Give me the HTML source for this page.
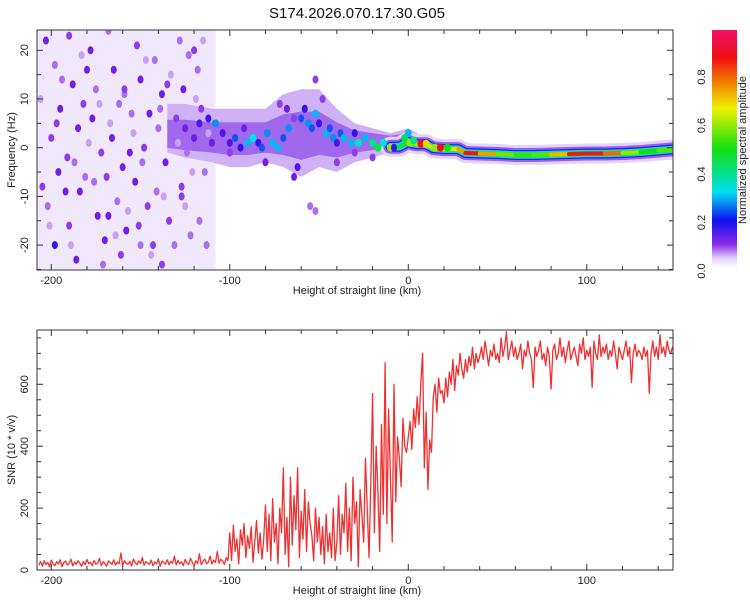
<!DOCTYPE html>
<html><head><meta charset="utf-8">
<style>
html,body{margin:0;padding:0;background:#fff;}
svg{display:block;font-family:"Liberation Sans",sans-serif;}
</style></head>
<body>
<svg id="chart" width="750" height="600" viewBox="0 0 750 600" xmlns="http://www.w3.org/2000/svg">
<defs>
<linearGradient id="cmap" x1="0" y1="1" x2="0" y2="0">
<stop offset="0" stop-color="#ffffff"/>
<stop offset="0.04" stop-color="#e2d2f8"/>
<stop offset="0.1" stop-color="#8a2be8"/>
<stop offset="0.2" stop-color="#1010f0"/>
<stop offset="0.32" stop-color="#00e0f0"/>
<stop offset="0.5" stop-color="#10e010"/>
<stop offset="0.67" stop-color="#f0f000"/>
<stop offset="0.78" stop-color="#f08000"/>
<stop offset="0.88" stop-color="#f01010"/>
<stop offset="1" stop-color="#f0106a"/>
</linearGradient>
<clipPath id="clipTop"><rect x="37" y="30" width="636" height="240"/></clipPath>
<clipPath id="clipBot"><rect x="37" y="330" width="636" height="240"/></clipPath>
</defs>
<text x="357" y="18" font-size="15" text-anchor="middle" fill="#111">S174.2026.070.17.30.G05</text>
<g id="top"></g>
<g id="bot"></g>
<g id="cbar"></g>
</svg>
<script>
// ---- data ----
const hazeX = [-135,-125,-110,-100,-90,-80,-70,-60,-50,-40,-30,-20,-10,0,5];
const hazeTop = [9,9,8,8,8,8,11,12,12,8,5,4,3,4,3];
const hazeBot = [-1,-2,-3,-4,-4,-3,-4,-6,-4,-5,-3,-2,-1,-1,-1];
const blobX = [-203,-198,-195,-200,-196,-202,-198,-190,-188,-185,-187,-184,-190,-186,-178,-175,-177,-172,-176,-174,-170,-168,-165,-162,-166,-160,-163,-158,-161,-152,-150,-155,-148,-153,-146,-150,-142,-138,-140,-136,-141,-134,-138,-128,-126,-130,-124,-127,-122,-118,-116,-114,-113,-192,-180,-156,-168,-145,
-206,-201,-194,-189,-183,-181,-179,-173,-171,-167,-164,-159,-157,-154,-149,-147,-144,-139,-137,-133,-131,-129,-125,-123,-121,-119,-117,-115,-112,-205,-197,-191,-182,-169,-159,-151,-143,-135,-127,-120,
-125,-120,-117,-112,-108,-104,-100,-97,-94,-92,-90,-87,-84,-82,-79,-76,-73,-70,-67,-72,-68,-64,-62,-60,-58,-56,-54,-52,-50,-52,-48,-46,-44,-42,-40,-38,-36,-32,-30,-28,-24,-20,-17,-14,-10,-8,-55,-52,-80,-100,-110,-40,-64,-20,-30,
-2,0,1,3,7,10,15,18,22];
const blobF = [22,17,8,2,-5,-12,-20,23,13,4,-3,-9,-16,-23,20,12,6,-1,-7,-14,-19,24,16,9,2,-4,-11,-17,-22,21,14,7,0,-7,-12,-20,18,11,4,-3,-9,-15,-24,22,12,6,-1,-8,-18,16,8,-5,-20,-9,16,-1,-14,7,
10,-16,14,-20,19,-6,1,9,-24,5,-18,11,-13,3,-3,18,-22,8,-10,15,-20,1,-12,19,-5,10,-15,22,3,-8,5,-2,9,-6,12,-16,-20,13,-10,20,
4,2,5,6,5,3,1,2,0,4,1,2,1,0,3,1,0,2,4,9,8,6,-4,6,8,5,4,7,5,14,10,3,4,2,1,3,2,1,3,1,2,1,0,1,0,0,-12,-13,-3,-1,1,-3,-6,-2,-1,
2,3,1,1.5,0.8,0.8,0,0,0];
const blobA = [.15,.1,.15,.12,.15,.1,.2,.12,.15,.15,.1,.15,.12,.15,.15,.1,.15,.12,.1,.15,.15,.1,.15,.1,.15,.15,.1,.15,.12,.12,.15,.1,.12,.15,.12,.1,.1,.15,.1,.15,.1,.12,.12,.1,.15,.12,.1,.12,.1,.1,.12,.1,.1,.15,.15,.15,.15,.15,
.08,.08,.1,.08,.08,.1,.08,.08,.1,.08,.08,.1,.08,.08,.1,.08,.08,.1,.08,.08,.1,.08,.08,.1,.08,.08,.1,.08,.08,.12,.12,.12,.12,.12,.12,.12,.12,.12,.12,.12,
.15,.15,.18,.2,.28,.18,.18,.25,.2,.15,.3,.32,.2,.25,.28,.3,.3,.25,.28,.12,.15,.12,.18,.25,.2,.28,.25,.3,.2,.12,.12,.3,.25,.28,.18,.25,.3,.3,.2,.35,.3,.4,.45,.35,.6,.2,.1,.1,.15,.12,.15,.12,.15,.12,.12,
.45,.3,.6,.4,.9,.7,.6,.9,.5];
const ridgeX = [-10,-5,0,2,5,10,14,20,28,32,40,50,60,70,80,90,100,110,120,130,140,150];
const ridgeF = [0.5,0.5,1.5,1.2,1,1,0.2,0,0,-0.8,-0.9,-1,-1.2,-1.2,-1.1,-1,-0.9,-0.9,-0.8,-0.6,-0.3,0];
const ridgeA = [.4,.4,.5,.6,.6,.7,.6,.7,.6,.9,.9,.6,.55,.5,.6,.85,.9,.9,.7,.5,.5,.6];
const xTicks = [-200,-100,0,100];
const fTicks = [-20,-10,0,10,20];
const snrTicks = [0,200,400,600];
const cbTicks = [0.0,0.2,0.4,0.6,0.8];
const snrStart = -207;
const snrStep = 1;
const snrValues = [15,28,12,30,18,25,10,32,20,14,27,19,33,11,24,29,16,21,35,13,26,18,30,22,12,28,17,34,20,25,14,31,19,23,38,15,27,21,12,29,24,18,33,16,26,20,55,14,30,22,19,28,13,35,24,17,29,21,40,15,27,23,18,32,14,26,20,36,12,29,24,19,33,17,28,22,45,16,31,20,26,14,34,23,18,38,25,13,30,21,52,17,28,35,20,26,45,19,32,24,60,22,35,28,18,40,30,
120,30,145,60,100,20,130,80,150,40,110,70,140,25,90,160,55,120,35,100,
210,60,180,30,230,90,150,20,200,120,330,50,170,10,300,80,240,130,330,40,190,100,260,60,220,150,110,30,200,90,170,50,140,20,180,60,120,40,200,30,
90,240,50,180,120,280,60,200,30,300,150,220,10,260,180,90,360,200,40,280,
570,120,400,250,60,470,180,670,150,520,300,90,600,220,430,360,270,490,400,380,
430,480,390,520,460,560,470,600,700,330,510,260,420,380,560,600,510,620,570,580,
540,620,560,640,600,680,580,660,630,700,650,620,680,640,690,660,720,650,700,670,
690,720,680,740,700,660,710,690,730,680,700,670,750,690,720,770,680,710,740,690,720,680,700,730,650,710,690,740,700,680,590,720,690,710,740,680,700,660,720,690,585,710,730,680,700,750,690,720,670,710,740,680,700,720,690,660,730,700,750,680,710,690,720,590,740,700,680,760,690,720,700,730,680,710,690,740,700,650,720,700,680,710,740,690,720,605,700,730,690,710,700,680,720,690,710,570,700,740,690,720,680,760,700,720,690,740,710,700,720,690];

// ---- scales ----
const X0=37, X1=673, KMIN=-208, KMAX=148.3;
const xs = k => X0 + (k-KMIN)/(KMAX-KMIN)*(X1-X0);
const fy = f => 147.7 - f*4.87;
const sy = v => 570 - v*0.3095;
const cy = a => 271 - a*242.5;
const NS="http://www.w3.org/2000/svg";
function mk(tag, attrs, parent){const e=document.createElementNS(NS,tag);for(const k in attrs)e.setAttribute(k,attrs[k]);parent.appendChild(e);return e;}
const stops=[[0,[255,255,255]],[0.04,[230,215,250]],[0.08,[200,160,245]],[0.12,[140,60,235]],[0.16,[105,20,230]],[0.22,[30,20,240]],[0.32,[0,224,240]],[0.5,[16,224,16]],[0.67,[240,240,0]],[0.78,[240,128,0]],[0.88,[240,16,16]],[1,[240,16,106]]];
function cmap(a){for(let i=1;i<stops.length;i++){if(a<=stops[i][0]){const t=(a-stops[i-1][0])/(stops[i][0]-stops[i-1][0]);const c=stops[i-1][1].map((v,j)=>Math.round(v+(stops[i][1][j]-v)*t));return `rgb(${c})`;}}return 'rgb(240,16,106)';}

const topG=document.getElementById('top'), botG=document.getElementById('bot'), cbG=document.getElementById('cbar');

// ---- spectrogram ----
const heat=mk('g',{'clip-path':'url(#clipTop)'},topG);


const bg=mk('rect',{x:X0,y:30,width:xs(-108)-X0,height:240,fill:'#f1e8fc'},heat);


let pts=hazeX.map((k,i)=>xs(k)+','+fy(hazeTop[i])).concat(hazeX.slice().reverse().map((k,i)=>xs(k)+','+fy(hazeBot[hazeX.length-1-i])));
const hz=mk('polygon',{points:pts.join(' '),fill:'#cfb2f6'},heat);


const core=hazeX.map((k,i)=>xs(k)+','+fy(hazeTop[i]*0.55+0.8)).concat(hazeX.slice().reverse().map((k,i)=>xs(k)+','+fy(hazeBot[hazeX.length-1-i]*0.5+0.5)));
const hc=mk('polygon',{points:core.join(' '),fill:'#8a48ea',opacity:0.7},heat);


const rp=ridgeX.map((k,i)=>xs(k)+','+fy(ridgeF[i]-0.3)).join(' ');
[[20,'#e4d4f9'],[14,'#9d5cee'],[10,'#2020f0'],[7.5,'#00d8f0'],[5.5,'#30e030']].forEach(([w,c])=>{
  const l=mk('polyline',{points:rp,fill:'none',stroke:c,'stroke-width':w,'stroke-linejoin':'round','stroke-linecap':'round'},heat);
  
  
});
ridgeX.forEach((k,i)=>{
  if(i===0)return;
  const s=mk('line',{x1:xs(ridgeX[i-1]),y1:fy(ridgeF[i-1]-0.3),x2:xs(k),y2:fy(ridgeF[i]-0.3),stroke:cmap((ridgeA[i-1]+ridgeA[i])/2),'stroke-width':4,'stroke-linecap':'round'},heat);
  
  
});
blobX.forEach((k,i)=>{
  const a=blobA[i];
  if(a===undefined||blobF[i]===undefined)return;
  const e=mk('ellipse',{cx:xs(k),cy:fy(blobF[i]),rx:a>0.25?3.5:3,ry:a>0.25?4:4,fill:cmap(a)},heat);
  
  
});

// ---- axes helper ----
function frame(g,y0,y1){
  const r=mk('rect',{x:X0,y:y0,width:X1-X0,height:y1-y0,fill:'none',stroke:'#333','stroke-width':1},g);
  
  
  for(let k=-200;k<=140;k+=20){
    const x=xs(k), L=(k%100===0)?6:4;
    mk('line',{x1:x,y1:y1,x2:x,y2:y1-L,stroke:'#333'},g);
    mk('line',{x1:x,y1:y0,x2:x,y2:y0+L,stroke:'#333'},g);
  }
  xTicks.forEach(k=>{
    const t=mk('text',{x:xs(k),y:y1+14,'font-size':11,'text-anchor':'middle',fill:'#222'},g);
    t.textContent=k;
    
    
  });
  const at=mk('text',{x:357,y:y1+24,'font-size':11,'text-anchor':'middle',fill:'#222'},g);
  at.textContent='Height of straight line (km)';
  
  
}
frame(topG,30,270);
for(let f=-25;f<=24;f+=5){const y=fy(f),L=(f%10===0)?6:4;mk('line',{x1:X0,y1:y,x2:X0+L,y2:y,stroke:'#333'},topG);mk('line',{x1:X1,y1:y,x2:X1-L,y2:y,stroke:'#333'},topG);}
fTicks.forEach(f=>{
  const t=mk('text',{x:28,y:fy(f),'font-size':11,'text-anchor':'middle',fill:'#222',transform:`rotate(-90 28 ${fy(f)})`},topG);
  t.textContent=f;
  
  
});
const fyt=mk('text',{x:15,y:150,'font-size':11,'text-anchor':'middle',fill:'#222',transform:'rotate(-90 15 150)'},topG);
fyt.textContent='Frequency (Hz)';



// ---- SNR ----
const sg=mk('g',{'clip-path':'url(#clipBot)'},botG);
const snrPts=snrValues.map((v,i)=>xs(snrStart+i*snrStep)+','+sy(v)).join(' ');
const sl=mk('polyline',{points:snrPts,fill:'none',stroke:'#f03030','stroke-width':1.3,'stroke-linejoin':'round'},sg);


frame(botG,330,570);
for(let v=0;v<=750;v+=50){const y=sy(v),L=(v%200===0)?6:4;mk('line',{x1:X0,y1:y,x2:X0+L,y2:y,stroke:'#333'},botG);mk('line',{x1:X1,y1:y,x2:X1-L,y2:y,stroke:'#333'},botG);}
snrTicks.forEach(v=>{
  const t=mk('text',{x:28,y:sy(v),'font-size':11,'text-anchor':'middle',fill:'#222',transform:`rotate(-90 28 ${sy(v)})`},botG);
  t.textContent=v;
  
  
});
const syt=mk('text',{x:15,y:450,'font-size':11,'text-anchor':'middle',fill:'#222',transform:'rotate(-90 15 450)'},botG);
syt.textContent='SNR (10 * v/v)';



// ---- colorbar ----
const cr=mk('rect',{x:712,y:30,width:25,height:238,fill:'url(#cmap)'},cbG);


cbTicks.forEach(a=>{
  const t=mk('text',{x:705,y:cy(a),'font-size':11,'text-anchor':'middle',fill:'#222',transform:`rotate(-90 705 ${cy(a)})`},cbG);
  t.textContent=a.toFixed(1);
  
  
});
const ct=mk('text',{x:746,y:150,'font-size':11,'text-anchor':'middle',fill:'#222',transform:'rotate(-90 746 150)'},cbG);
ct.textContent='Normalized spectral amplitude';


</script>
</body></html>
